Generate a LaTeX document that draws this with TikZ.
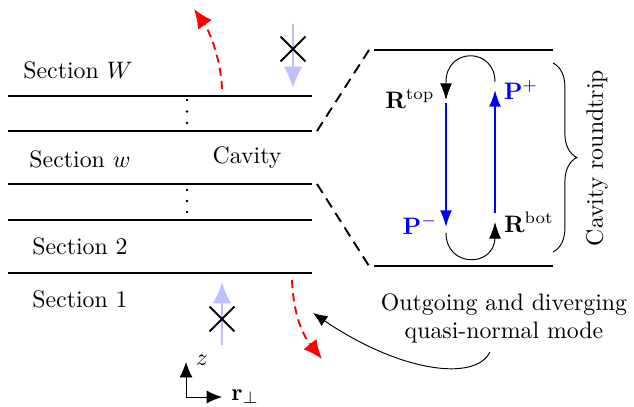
\documentclass[tikz,border=0pt]{standalone}
\usetikzlibrary{arrows.meta,decorations.pathreplacing,shapes.misc}
\begin{document}
\begin{tikzpicture}[x=0.42pt,y=-0.42pt,
  layer/.style={line width=0.8pt},
  link/.style={line width=0.8pt,dash pattern=on 4.4pt off 2.8pt},
  leak/.style={red,line width=0.8pt,dash pattern=on 3.4pt off 2.2pt,-{Latex[length=8pt,width=7pt]}},
  inc/.style={blue!25,line width=1.2pt,-{Latex[length=9pt,width=8pt]}},
  prop/.style={blue,line width=0.6pt,-{Latex[length=7pt,width=5pt]}},
  refl/.style={line width=0.4pt,-{Latex[length=7pt,width=5pt]}},
  axis/.style={line width=0.4pt,-{Latex[length=6.5pt,width=5.5pt]}},
  forbid/.style={draw,cross out,line width=0.8pt,minimum size=9.6pt,inner sep=0pt},
  dot/.style={circle,fill,inner sep=0pt,minimum size=1.1pt},
  lbl/.style={inner sep=0pt}
]
\useasboundingbox (0,0) rectangle (634,406);

% left stack of layers
\foreach \n/\y in {a/96,b/131,c/184,d/220,e/273}{
  \coordinate (\n L) at (8,\y);
  \coordinate (\n R) at (312,\y);
  \draw[layer] (\n L) -- (\n R);
}
\foreach \y [count=\i] in {100,111.5,123}{\node[dot] (da\i) at (187,\y) {};}
\foreach \y [count=\i] in {190,201,212}{\node[dot] (db\i) at (187,\y) {};}

\node[lbl] (secW) at (78,70) {Section $W$};
\node[lbl] (secw) at (80,159) {Section $w$};
\node[lbl] (cav) at (247,157.5) {Cavity};
\node[lbl] (sec2) at (80,246) {Section 2};
\node[lbl] (sec1) at (80,299) {Section 1};

% zoomed cavity
\coordinate (tL) at (374,50);  \coordinate (tR) at (553,50);
\coordinate (bL) at (374,266); \coordinate (bR) at (553,266);
\draw[layer] (tL) -- (tR);
\draw[layer] (bL) -- (bR);
\coordinate (tD) at (369,50); \coordinate (bD) at (369,266);
\coordinate (bS) at (317,131); \coordinate (cS) at (317,184);
\draw[link] (bS) -- (tD);
\draw[link] (cS) -- (bD);

% roundtrip
\coordinate (p1) at (495,82);
\coordinate (p2) at (446,82);
\coordinate (p3) at (446,100);
\draw[refl] (p1) .. controls (495,47) and (446,47) .. (p2) -- (p3);
\coordinate (m1) at (446,103);
\coordinate (m2) at (446,227);
\draw[prop] (m1) -- (m2);
\coordinate (q1) at (446,233);
\coordinate (q2) at (495,237);
\coordinate (q3) at (495,222);
\draw[refl] (q1) .. controls (446,268) and (495,268) .. (q2) -- (q3);
\coordinate (u1) at (495,213);
\coordinate (u2) at (495,90);
\draw[prop] (u1) -- (u2);

\node[lbl] (Rtop) at (410,99) {$\mathbf{R}^{\mathrm{top}}$};
\node[lbl,text=blue] (Pp) at (521,90) {$\mathbf{P}^{+}$};
\node[lbl] (Rbot) at (529,222) {$\mathbf{R}^{\mathrm{bot}}$};
\node[lbl,text=blue] (Pm) at (420,225) {$\mathbf{P}^{-}$};

\coordinate (br1) at (553,63);
\coordinate (br2) at (553,252);
\draw[decorate,decoration={brace,amplitude=10pt}] (br1) -- (br2);
\node[lbl,rotate=90] (rt) at (597,158) {Cavity roundtrip};

% leaky outgoing waves
\coordinate (r1) at (222,89);
\coordinate (r2) at (194,9);
\draw[leak] (r1) .. controls (221,60) and (210,32) .. (r2);
\coordinate (s1) at (292,280);
\coordinate (s2) at (322,359);
\draw[leak] (s1) .. controls (293,310) and (301,333) .. (s2);

% forbidden incoming waves
\coordinate (i1) at (293,24);
\coordinate (i2) at (293,88);
\draw[inc] (i1) -- (i2);
\node[forbid] (x1) at (293,49) {};
\coordinate (j1) at (222,345);
\coordinate (j2) at (222,282);
\draw[inc] (j1) -- (j2);
\node[forbid] (x2) at (222,319) {};

% annotation
\node[lbl,align=center] (qnm) at (504,318.5) {Outgoing and diverging\\quasi-normal mode};
\coordinate (c1) at (490,352);
\coordinate (c2) at (313,313);
\draw[line width=0.4pt,-{Latex[length=6pt,width=5pt]}] (c1) .. controls (475,382) and (400,372) .. (c2);

% axes
\coordinate (o) at (186,397);
\coordinate (oz) at (186,362);
\coordinate (or) at (222,397);
\draw[axis] (o) -- (oz);
\draw[axis] (o) -- (or);
\node[lbl,anchor=base] (zl) at (202,365) {$z$};
\node[lbl,anchor=base west] (rl) at (231,400) {$\mathbf{r}_\perp$};
\end{tikzpicture}
\end{document}
